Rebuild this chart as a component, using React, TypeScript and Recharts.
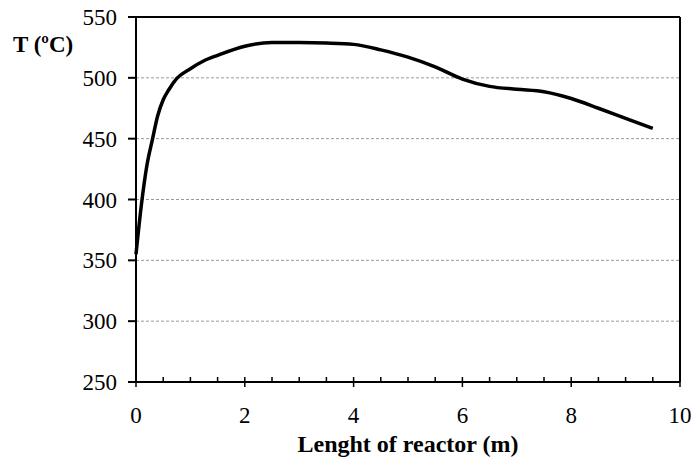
import React from 'react';
import { LineChart, Line, XAxis, YAxis, CartesianGrid, ReferenceLine, Label } from 'recharts';

const lengthM = [0, 0.1, 0.2, 0.3, 0.4, 0.5, 0.6, 0.75, 1.0, 1.25, 1.5, 2, 2.5, 3, 3.5, 4, 4.5, 5, 5.5, 6, 6.5, 7, 7.5, 8, 8.5, 9, 9.5];
const tempC = [355, 396, 428, 449, 469, 482, 490, 499.5, 507.5, 514, 518.5, 526, 529, 529, 528.6, 527.5, 523, 517, 509, 499, 493, 490.6, 488.6, 483, 475, 466.7, 458.5];

const xTicks = [0, 0.5, 1, 1.5, 2, 2.5, 3, 3.5, 4, 4.5, 5, 5.5, 6, 6.5, 7, 7.5, 8, 8.5, 9, 9.5, 10];
const xLabelTicks = [0, 2, 4, 6, 8, 10];
const yTicks = [250, 300, 350, 400, 450, 500, 550];

const data = lengthM.map((x, i) => ({ x, t: tempC[i] }));

const FONT = '"Liberation Serif", "Times New Roman", serif';

const XTick = (props: any) => {
  const { x, y, payload } = props;
  const major = xLabelTicks.includes(payload.value);
  return (
    <g>
      <line x1={x} x2={x} y1={y - 5} y2={major ? y + 5 : y} stroke="#000" strokeWidth={1.5} />
      {major && (
        <text x={x} y={y + 33} dy="0.355em" textAnchor="middle" fontFamily={FONT} fontSize={23} fill="#000">
          {payload.value}
        </text>
      )}
    </g>
  );
};

export default function App() {
  return (
    <div style={{ position: 'fixed', left: 0, top: 0, width: 693, height: 457, background: '#fff' }}>
      <LineChart width={693} height={457} data={data} margin={{ top: 17, right: 13, left: 0, bottom: 0 }} style={{ overflow: 'visible' }}>
        <CartesianGrid vertical={false} stroke="#9a9a9a" strokeDasharray="3 2" />
        <XAxis
          dataKey="x"
          type="number"
          domain={[0, 10]}
          ticks={xTicks}
          interval={0}
          tickSize={0}
          tickMargin={0}
          tickLine={false}
          tick={<XTick />}
          height={75}
          axisLine={{ stroke: '#000', strokeWidth: 2 }}
        >
          <Label
            value="Lenght of reactor (m)"
            position="insideBottom"
            offset={5}
            style={{ fontFamily: FONT, fontSize: 24, fontWeight: 'bold', fill: '#000' }}
          />
        </XAxis>
        <YAxis
          type="number"
          domain={[250, 550]}
          ticks={yTicks}
          interval={0}
          width={136}
          tickSize={8}
          tickMargin={11}
          tickLine={{ stroke: '#000', strokeWidth: 2 }}
          axisLine={{ stroke: '#000', strokeWidth: 2 }}
          tick={{ fontFamily: FONT, fontSize: 23, fill: '#000' }}
        >
          <Label
            value="T (ºC)"
            position="insideTopLeft"
            offset={13}
            dy={6}
            style={{ fontFamily: FONT, fontSize: 23, fontWeight: 'bold', fill: '#000' }}
          />
        </YAxis>
        <ReferenceLine y={550} stroke="#000" strokeWidth={2} />
        <ReferenceLine x={10} stroke="#000" strokeWidth={2} />
        <Line
          type="monotone"
          dataKey="t"
          stroke="#000"
          strokeWidth={3.5}
          dot={false}
          activeDot={false}
          isAnimationActive={false}
        />
      </LineChart>
    </div>
  );
}
